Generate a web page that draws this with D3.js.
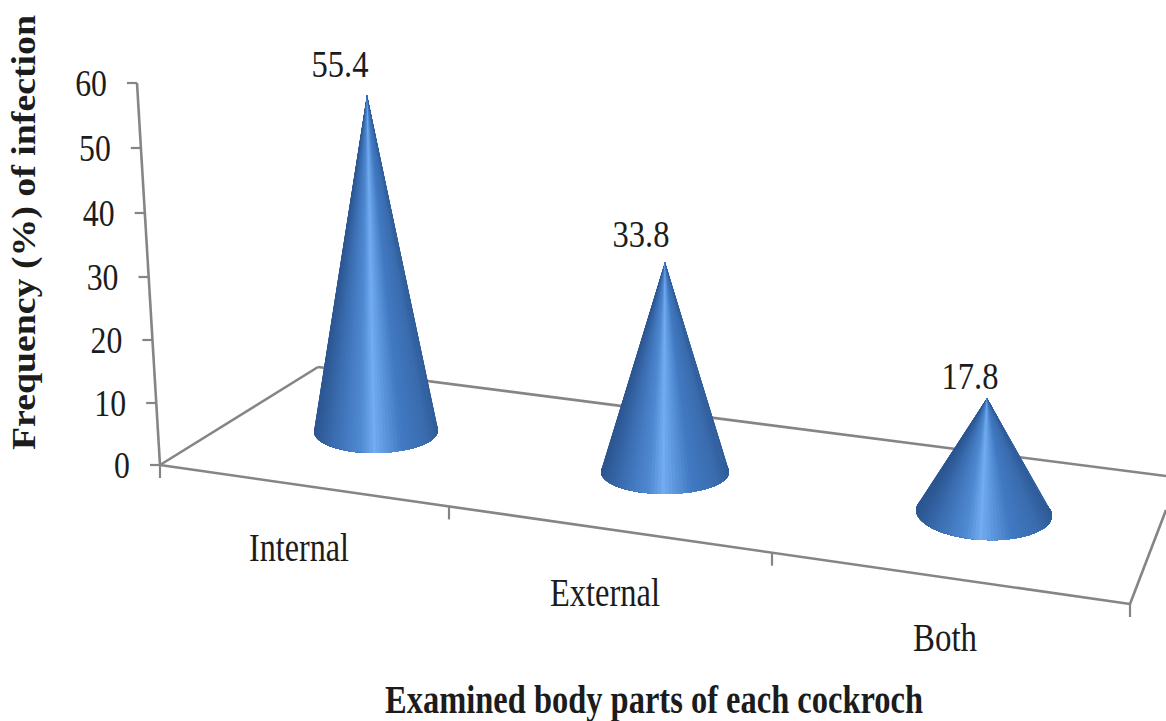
<!DOCTYPE html>
<html>
<head>
<meta charset="utf-8">
<script src="https://cdn.jsdelivr.net/npm/d3@7"></script>
<style>
  html, body { margin: 0; padding: 0; background: #fff; }
  svg { display: block; }
  text { font-family: "Liberation Serif", serif; fill: #1c1c1c; }
</style>
</head>
<body>
<div id="chart"></div>
<script>
// ---- Data ----
const categories = ["Internal", "External", "Both"];
const frequencies = [55.4, 33.8, 17.8];
const yTicks = [0, 10, 20, 30, 40, 50, 60];
const yTitle = "Frequency (%) of infection";
const xTitle = "Examined body parts of each cockroch";

const W = 1166, H = 721;
const GREY = "#858585";

const svg = d3.select("#chart").append("svg").attr("width", W).attr("height", H);

// ---- Scales (3D view is faked, so the perspective lives in the ranges) ----
const y = d3.scaleLinear().domain(yTicks).range([465, 403, 340, 277, 213, 148, 83]);
const axisX = d3.scaleLinear().domain([0, 60]).range([160, 137]);
const coneHeight = d3.scaleLinear().domain([0, 20, 40, 60]).range([0, 129, 246, 363]);

const baseX = d3.scaleOrdinal().domain(categories).range([376, 665, 984]);
const baseY = d3.scaleOrdinal().domain(categories).range([431, 472, 513]);
const apexX = d3.scaleOrdinal().domain(categories).range([367, 665, 987]);
const radiusX = d3.scaleOrdinal().domain(categories).range([62, 64, 68]);
const radiusY = d3.scaleOrdinal().domain(categories).range([22, 22, 27]);
const tilt = d3.scaleOrdinal().domain(categories).range([-0.012, 0, 0.05]);
const labelDx = d3.scaleOrdinal().domain(categories).range([-27, -24, -17]);
const labelDy = d3.scaleOrdinal().domain(categories).range([-18, -15, -9]);

const catLabelX = d3.scaleOrdinal().domain(categories).range([249, 550, 913]);
const catLabelY = d3.scaleOrdinal().domain(categories).range([561, 606, 651]);

// front floor edge, category boundaries sit on it
const frontY = d3.scaleLinear().domain([160, 1130]).range([465, 604]);
const boundaries = d3.scaleOrdinal().domain(d3.range(4)).range([160, 449, 772, 1130]);

// cone shading across the visible face, 0 = left silhouette, 1 = right
const shade = d3.scaleLinear()
  .domain([0, 0.1, 0.3, 0.44, 0.53, 0.64, 0.85, 1])
  .range(["#2f5c99", "#3a6cae", "#4179c2", "#5d97dd", "#72abf0", "#4f8ad2", "#3b6eb2", "#2c5691"]);

// text is taller than it is wide in the picture
function place(sel, px, py, sx) {
  return sel.attr("transform", `translate(${px},${py}) scale(${sx},1)`);
}

// ---- Floor ----
const lines = [
  [[160, 465], [318, 367]],
  [[318, 367], [1166, 476]],
  [[160, 465], [1130, 604]],
  [[1130, 604], [1166, 510]]
];
svg.append("g").selectAll("line")
  .data(lines)
  .join("line")
  .attr("x1", d => d[0][0]).attr("y1", d => d[0][1])
  .attr("x2", d => d[1][0]).attr("y2", d => d[1][1])
  .attr("stroke", GREY).attr("stroke-width", 2.6);

svg.append("g").selectAll("line")
  .data(d3.range(4))
  .join("line")
  .attr("x1", d => boundaries(d)).attr("x2", d => boundaries(d))
  .attr("y1", d => frontY(boundaries(d)))
  .attr("y2", d => frontY(boundaries(d)) + 13)
  .attr("stroke", GREY).attr("stroke-width", 2.2);

// ---- Y axis ----
const yAxis = svg.append("g");
yAxis.append("line")
  .attr("x1", axisX(0)).attr("y1", y(0))
  .attr("x2", axisX(60)).attr("y2", y(60))
  .attr("stroke", GREY).attr("stroke-width", 2.6);

yAxis.selectAll(".tick")
  .data(yTicks)
  .join("line")
  .attr("class", "tick")
  .attr("x1", d => axisX(d) - 10).attr("x2", d => axisX(d))
  .attr("y1", d => y(d)).attr("y2", d => y(d))
  .attr("stroke", GREY).attr("stroke-width", 2.2);

yAxis.selectAll(".tick-label")
  .data(yTicks)
  .join("text")
  .attr("class", "tick-label")
  .attr("font-size", 37)
  .attr("text-anchor", "end")
  .text(d => d)
  .each(function(d) { place(d3.select(this), axisX(d) - 30, y(d) + 13, 0.86); });

// ---- Cones ----
const SLICES = 70;
const OVER = 0.5; // extra angle behind the rim, needed for the silhouette
const coneLine = d3.line();

categories.forEach((cat, i) => {
  const h = coneHeight(frequencies[i]);
  const cx = baseX(cat), cy = baseY(cat);
  const rx = radiusX(cat), ry = radiusY(cat), t = tilt(cat);
  const apex = [apexX(cat), cy - h];
  const rim = a => {
    const ex = rx * Math.cos(a), ey = ry * Math.sin(a);
    return [cx + ex * Math.cos(t) - ey * Math.sin(t), cy + ex * Math.sin(t) + ey * Math.cos(t)];
  };
  const step = (Math.PI + 2 * OVER) / SLICES;
  // angles run left to right across the face; each wedge reaches to the right
  // silhouette and the next one paints over it, so no seams show between them
  const angles = d3.range(SLICES + 1).map(k => Math.PI + OVER - k * step);

  svg.append("g").attr("class", "cone")
    .selectAll("path")
    .data(angles.slice(0, SLICES))
    .join("path")
    .attr("d", a => coneLine([apex, ...angles.filter(b => b <= a + 1e-9).map(rim)]) + "Z")
    .attr("fill", a => shade((1 - Math.cos(a)) / 2));

  place(svg.append("text"), apex[0] + labelDx(cat), apex[1] + labelDy(cat), 0.88)
    .attr("font-size", 37)
    .attr("text-anchor", "middle")
    .text(frequencies[i]);
});

// ---- Category labels ----
svg.append("g").selectAll("text")
  .data(categories)
  .join("text")
  .attr("font-size", 40)
  .attr("x", d => catLabelX(d))
  .attr("y", d => catLabelY(d))
  .attr("textLength", (d, i) => [100, 110, 64][i])
  .attr("lengthAdjust", "spacingAndGlyphs")
  .text(d => d);

// ---- Axis titles ----
svg.append("text")
  .attr("font-size", 40)
  .attr("font-weight", "bold")
  .attr("x", 385).attr("y", 713)
  .attr("textLength", 538)
  .attr("lengthAdjust", "spacingAndGlyphs")
  .text(xTitle);

svg.append("text")
  .attr("font-size", 33)
  .attr("font-weight", "bold")
  .attr("transform", "translate(35,450) rotate(-90)")
  .attr("textLength", 435)
  .attr("lengthAdjust", "spacingAndGlyphs")
  .text(yTitle);
</script>
</body>
</html>
